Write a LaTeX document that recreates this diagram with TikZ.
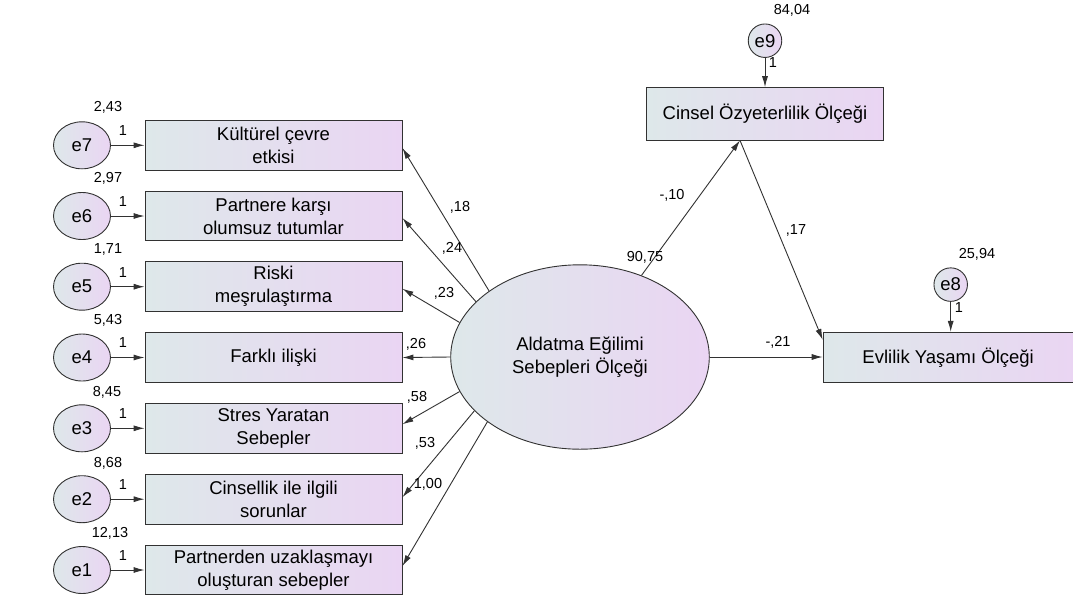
\documentclass[tikz,border=0pt]{standalone}
\usepackage{fontspec}
\setmainfont{Liberation Sans}
\usetikzlibrary{arrows.meta,shapes.geometric,calc}
\definecolor{boxL}{RGB}{222,232,234}
\definecolor{boxR}{RGB}{234,213,243}
\definecolor{lineC}{RGB}{50,50,50}
\tikzset{
  obsbox/.style={rectangle, draw=lineC, line width=0.9pt, left color=boxL, right color=boxR,
    minimum width=257pt, minimum height=49.7pt, inner sep=0pt, align=center,
    font=\fontsize{18.5}{23}\selectfont},
  errnode/.style={ellipse, draw=lineC, line width=0.9pt, left color=boxL, right color=boxR,
    minimum width=57pt, minimum height=47pt, inner sep=0pt, font=\fontsize{18.5}{22}\selectfont},
  errsmall/.style={circle, draw=lineC, line width=0.9pt, left color=boxL, right color=boxR,
    minimum size=33.5pt, inner sep=0pt, font=\fontsize{18.5}{22}\selectfont},
  latent/.style={ellipse, draw=lineC, line width=0.9pt, left color=boxL, right color=boxR,
    minimum width=258.6pt, minimum height=184.4pt, inner sep=0pt, align=center,
    font=\fontsize{18.5}{23}\selectfont},
  lbl/.style={inner sep=0pt, font=\fontsize{14.5}{16}\selectfont},
  arr/.style={draw=lineC, line width=0.9pt, -{Latex[length=11pt,width=6pt]}}
}
\begin{document}
\begin{tikzpicture}[x=1pt,y=-1pt]
\useasboundingbox[fill=white] (0,0) rectangle (1073,598);
% observed boxes
\node[obsbox] (b1) at (273.5,145.3) {Kültürel çevre\\etkisi};
\node[obsbox] (b2) at (273.5,216.0) {Partnere karşı\\olumsuz tutumlar};
\node[obsbox] (b3) at (273.5,286.7) {Riski\\meşrulaştırma};
\node[obsbox] (b4) at (273.5,357.5) {Farklı ilişki};
\node[obsbox] (b5) at (273.5,428.3) {Stres Yaratan\\Sebepler};
\node[obsbox] (b6) at (273.5,499.2) {Cinsellik ile ilgili\\sorunlar};
\node[obsbox] (b7) at (273.5,570.0) {Partnerden uzaklaşmayı\\oluşturan sebepler};
% error terms
\node[errnode] (e7) at (82,145.3) {e7};
\node[errnode] (e6) at (82,216.0) {e6};
\node[errnode] (e5) at (82,286.7) {e5};
\node[errnode] (e4) at (82,357.5) {e4};
\node[errnode] (e3) at (82,428.3) {e3};
\node[errnode] (e2) at (82,499.2) {e2};
\node[errnode] (e1) at (82,570.0) {e1};
% latent
\node[latent] (lat) at (580,357) {Aldatma Eğilimi\\Sebepleri Ölçeği};
% right side
\node[obsbox, minimum width=236.6pt, minimum height=52.3pt] (cin) at (765,113.8) {Cinsel Özyeterlilik Ölçeği};
\node[obsbox, minimum width=254pt, minimum height=50pt, anchor=west] (evl) at (822.7,357.3) {\hspace*{-4pt}Evlilik Yaşamı Ölçeği};
\node[errsmall] (e9) at (765,40.7) {e9};
\node[errsmall] (e8) at (950.7,284.6) {e8};
% error arrows
\foreach \i/\b in {7/b1,6/b2,5/b3,4/b4,3/b5,2/b6,1/b7}{
  \draw[arr] (e\i) -- (\b);
}
\draw[arr] (e9) -- (cin);
\draw[arr] (e8.south) -- (e8.south |- evl.north);
% loadings
\draw[arr] (lat.144.8) -- ([yshift=-2.7pt]b1.east);
\draw[arr] (lat.152.8) -- ([yshift=-2pt]b2.east);
\draw[arr] (lat.164.2) -- ([yshift=-2pt]b3.east);
\draw[arr] (lat.180) -- (b4.east);
\draw[arr] (lat.196) -- ([yshift=4pt]b5.east);
\draw[arr] (lat.207.6) -- ([yshift=2pt]b6.east);
\draw[arr] (lat.215.7) -- ([yshift=4pt]b7.east);
% structural paths
\coordinate (cinb) at ([xshift=-25pt]cin.south);
\draw[arr] (lat.53.1) -- (cinb);
\draw[arr] (cinb) -- ([yshift=-8pt]evl.north west);
\draw[arr] (lat.east) -- (lat.east -| evl.west);
% variance labels
\node[lbl] (v7) at (108,107) {2,43};
\node[lbl] (v6) at (108,178) {2,97};
\node[lbl] (v5) at (108,249) {1,71};
\node[lbl] (v4) at (108,320) {5,43};
\node[lbl] (v3) at (107,392) {8,45};
\node[lbl] (v2) at (108,463) {8,68};
\node[lbl] (v1) at (110,533) {12,13};
\node[lbl] (v9) at (792,10) {84,04};
\node[lbl] (v8) at (977,254) {25,94};
\node[lbl] (vl) at (645,257) {90,75};
% fixed 1s
\foreach \y/\n in {131/7,202/6,273/5,343/4,414/3,485/2,556/1}{
  \node[lbl] (one\n) at (123,\y) {1};
}
\node[lbl] (one9) at (773,63) {1};
\node[lbl] (one8) at (959,308) {1};
% coefficients
\node[lbl] (c1) at (460,207) {,18};
\node[lbl] (c2) at (452,248) {,24};
\node[lbl] (c3) at (444,293) {,23};
\node[lbl] (c4) at (416,344) {,26};
\node[lbl] (c5) at (417,397) {,58};
\node[lbl] (c6) at (425,443) {,53};
\node[lbl] (c7) at (428,484) {1,00};
\node[lbl] (c8) at (672,195) {-,10};
\node[lbl] (c9) at (796,230) {,17};
\node[lbl] (c10) at (778,342) {-,21};
\end{tikzpicture}
\end{document}
